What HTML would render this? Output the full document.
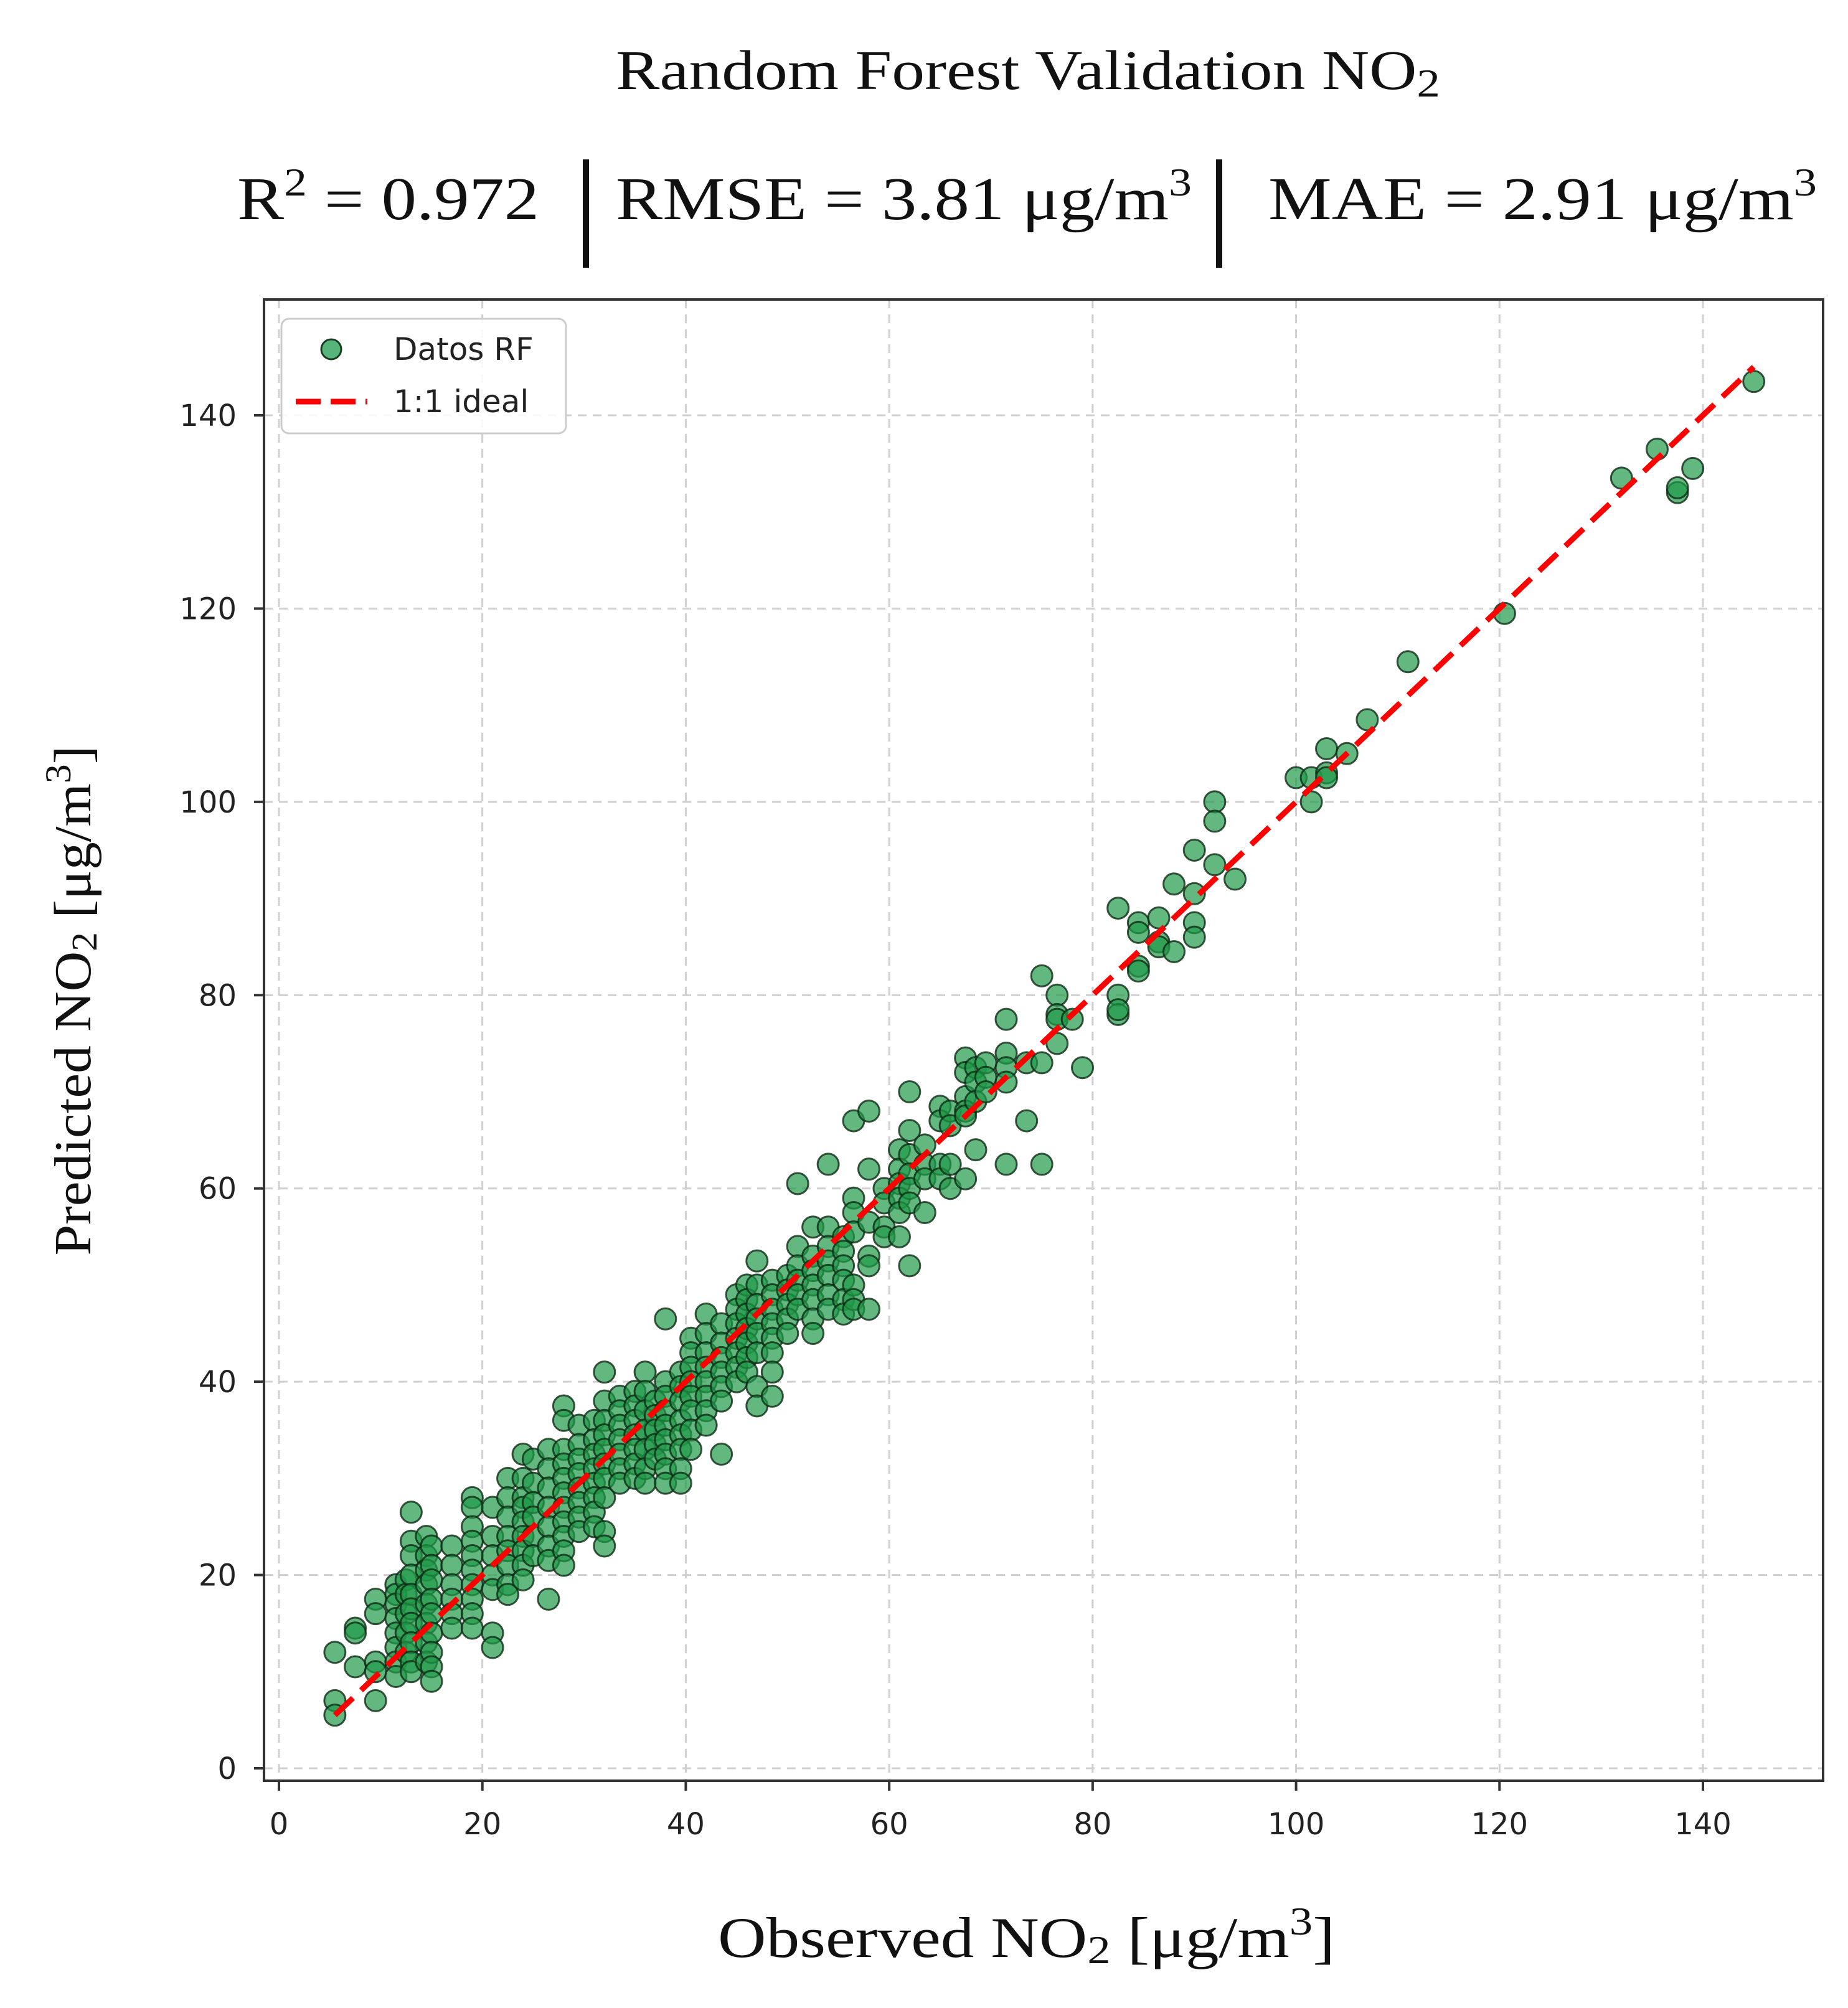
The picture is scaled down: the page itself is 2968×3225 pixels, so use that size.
<!DOCTYPE html>
<html><head><meta charset="utf-8"><style>
html,body{margin:0;padding:0;background:#fff;}
svg{display:block;}
</style></head><body>
<svg id="chart" width="2968" height="3225" viewBox="0 0 2968 3225" xmlns="http://www.w3.org/2000/svg">
<rect width="2968" height="3225" fill="#fff"/>
<text x="989" y="143" textLength="1324" lengthAdjust="spacingAndGlyphs" font-family="Liberation Serif, serif" font-size="90" fill="#111">Random Forest Validation NO<tspan font-size="64" dy="12">2</tspan></text>
<g font-family="Liberation Serif, serif" font-size="98" fill="#111">
<text x="381" y="352" textLength="485" lengthAdjust="spacingAndGlyphs">R<tspan font-size="64" dy="-38">2</tspan><tspan dy="38"> = 0.972</tspan></text>
<text x="989" y="352" textLength="925" lengthAdjust="spacingAndGlyphs">RMSE  =  3.81 μg/m<tspan font-size="64" dy="-38">3</tspan></text>
<text x="2037" y="352" textLength="881" lengthAdjust="spacingAndGlyphs">MAE  =  2.91 μg/m<tspan font-size="64" dy="-38">3</tspan></text>
<rect x="936" y="256" width="10" height="174" fill="#111"/>
<rect x="1953" y="256" width="10" height="174" fill="#111"/>
</g>
<g id="grid"></g>
<g id="points"></g>
<g id="line"></g>
<rect x="424" y="481" width="2504" height="2379" fill="none" stroke="#333" stroke-width="4"/>
<g id="ticks"></g>
<g>
<rect x="452" y="512" width="457" height="184" rx="12" fill="#fff" fill-opacity="0.85" stroke="#ccc" stroke-width="3"/>
<circle cx="532" cy="561" r="16" fill="#3aa864" fill-opacity="0.85" stroke="#1a3d22" stroke-width="3"/>
<text x="632" y="578" font-family="DejaVu Sans, sans-serif" font-size="50" fill="#222">Datos RF</text>
<line x1="475" y1="645" x2="590" y2="645" stroke="#ff0000" stroke-width="9" stroke-dasharray="40,16"/>
<text x="632" y="662" font-family="DejaVu Sans, sans-serif" font-size="50" fill="#222">1:1 ideal</text>
</g>
<text transform="translate(145,1607) rotate(-90)" text-anchor="middle" textLength="819" lengthAdjust="spacingAndGlyphs" font-family="Liberation Serif, serif" font-size="84" fill="#111">Predicted NO<tspan font-size="58" dy="10">2</tspan><tspan dy="-10"> [μg/m</tspan><tspan font-size="58" dy="-32">3</tspan><tspan dy="32">]</tspan></text>
<text x="1153" y="3143" textLength="991" lengthAdjust="spacingAndGlyphs" font-family="Liberation Serif, serif" font-size="92" fill="#111">Observed NO<tspan font-size="64" dy="10">2</tspan><tspan dy="-10"> [μg/m</tspan><tspan font-size="64" dy="-36">3</tspan><tspan dy="36">]</tspan></text>
</svg>
<script>
const xTicks = [0,20,40,60,80,100,120,140];
const yTicks = [0,20,40,60,80,100,120,140];
const idealLine = [5.5,145];
const columns = [5.5,7.5,9.5,11.5,12.5,13,14.5,15,17,19,21,22.5,24,25,26.5,28,29.5,31,32,33.5,35,36,37,38,39.5,40.5,42,43.5,45,46,47,48.5,50,51,52.5,54,55.5,56.5,58,59.5,61,62,63.5,65,66,67.5,68.5,69.5,71.5,73.5,75,76.5,78,79,82.5,84.5,86.5,88,90,92,94,100,101.5,103,105,107,111,120.5,132,135.5,137.5,139,145];
const predicted = [
[12,7,5.5],[14.5,14,10.5],[17.5,16,11,10,7],[19,18,17,15.5,14,12.5,11,9.5],[19.5,18,16,14,12],
[26.5,23.5,22,20,18,16.5,15,13,11,10],[24,22,20.5,19,17,15,13,11],[23,21,19.5,17.5,16,14,12,10.5,9],
[23,21,19,17.5,16,14.5],[28,27,25,23.5,22,20.5,19,17.5,16,14.5],[27,24,22,20,18.5,14,12.5],
[30,28,26,24,22.5,21,19,18],[32.5,30,28,27,25.5,24,22.5,21,19.5],[32,29.5,27.5,26,24,22],
[33,31,29,27,25,23,21.5,17.5],[37.5,36,33,31.5,30,28.5,27,25.5,24,22.5,21],[35.5,33.5,32,30.5,29,27.5,26,24.5],
[36,34,32.5,31,29.5,28,26.5,25],[41,38,36,34.5,33,31.5,30,28,24.5,23],[38.5,37,35.5,34,32.5,31,29.5],
[39,37.5,36,34.5,33,31.5,30],[41,39,37,35,33,31,29.5],[38,36.5,35,33.5,32],[46.5,40,38.5,37,35.5,34,32.5,31,29.5],
[41,39.5,38,36,34.5,33,31,29.5],[44.5,43,41.5,40,38.5,37,35,33],[47,45,43,41.5,40,38.5,37,35.5],
[46,44,42.5,41,39.5,38,32.5],[49,47.5,46,44.5,43,41.5,40],[50,48.5,47,45.5,44,42.5,41],
[52.5,50,48,46.5,45,43,39.5,37.5],[50.5,49,47.5,46,44.5,43,41,38.5],[51,49.5,48,46.5,45],
[60.5,54,52,50.5,49,47.5],[56,53,51.5,50,48.5,46.5,45],[62.5,56,54,52.5,51,49,47.5],[55,53.5,52,50.5,48.5,47],
[67,59,57.5,55.5,50,48.5,47.5],[68,62,56.5,53,52,47.5],[60,58.5,56,55],[64,62,60.5,59,57.5,55],
[70,66,63.5,61.5,60,58.5,52],[64.5,62.5,61,57.5],[68.5,67,62.5,61],[68,66.5,62.5,60],
[73.5,72,69.5,68,67.5,61],[72.5,71,69,64],[73,71.5,70],[77.5,74,72.5,71,62.5],[73,67],[82,73,62.5],
[80,78,77.5,75],[77.5],[72.5],[89,80,78,78.5],[87.5,86.5,83,82.5],[88,85.5,85],[91.5,84.5],
[95,87.5,86,90.5],[100,98,93.5],[92],[102.5],[102.5,100],[105.5,103,102.5],[105],[108.5],[114.5],[119.5],
[133.5],[136.5],[132,132.5],[134.5],[143.5]
];
const NS='http://www.w3.org/2000/svg';
const L=424,R=2928,T=481,B=2860;
const x0px=448,xUnit=(2735-448)/140;
const y0px=2840,yUnit=(2840-667)/140;
function sx(v){return x0px+v*xUnit;}
function sy(v){return y0px-v*yUnit;}
function mk(tag,attrs,parent){const e=document.createElementNS(NS,tag);for(const k in attrs)e.setAttribute(k,attrs[k]);parent.appendChild(e);return e;}
const grid=document.getElementById('grid'),ticks=document.getElementById('ticks');
xTicks.forEach(v=>{
  const g=mk('line',{x1:sx(v),x2:sx(v),y1:T,y2:B,stroke:'#d0d0d0','stroke-width':3,'stroke-dasharray':'14,10'},grid);
  
  
  const t=mk('line',{x1:sx(v),x2:sx(v),y1:B,y2:B+16,stroke:'#333','stroke-width':4},ticks);
  
  
  const lb=mk('text',{x:sx(v),y:2946,'text-anchor':'middle','font-family':'DejaVu Sans, sans-serif','font-size':48,fill:'#222'},ticks);
  lb.textContent=v;
  
  
});
yTicks.forEach(v=>{
  const g=mk('line',{x1:L,x2:R,y1:sy(v),y2:sy(v),stroke:'#d0d0d0','stroke-width':3,'stroke-dasharray':'14,10'},grid);
  
  
  const t=mk('line',{x1:L-16,x2:L,y1:sy(v),y2:sy(v),stroke:'#333','stroke-width':4},ticks);
  
  
  const lb=mk('text',{x:380,y:sy(v)+17,'text-anchor':'end','font-family':'DejaVu Sans, sans-serif','font-size':48,fill:'#222'},ticks);
  lb.textContent=v;
  
  
});
const pts=document.getElementById('points');
columns.forEach((xv,i)=>{
  predicted[i].forEach(yv=>{
    const c=mk('circle',{cx:sx(xv),cy:sy(yv),r:17,fill:'#1f9a48','fill-opacity':0.7,stroke:'#0f2a15','stroke-opacity':0.8,'stroke-width':3},pts);
    
    
  });
});
const ln=mk('line',{x1:sx(idealLine[0]),y1:sy(idealLine[0]),x2:sx(idealLine[1]),y2:sy(idealLine[1]),stroke:'#ff0000','stroke-width':9,'stroke-dasharray':'40,18'},document.getElementById('line'));


</script>
</body></html>
